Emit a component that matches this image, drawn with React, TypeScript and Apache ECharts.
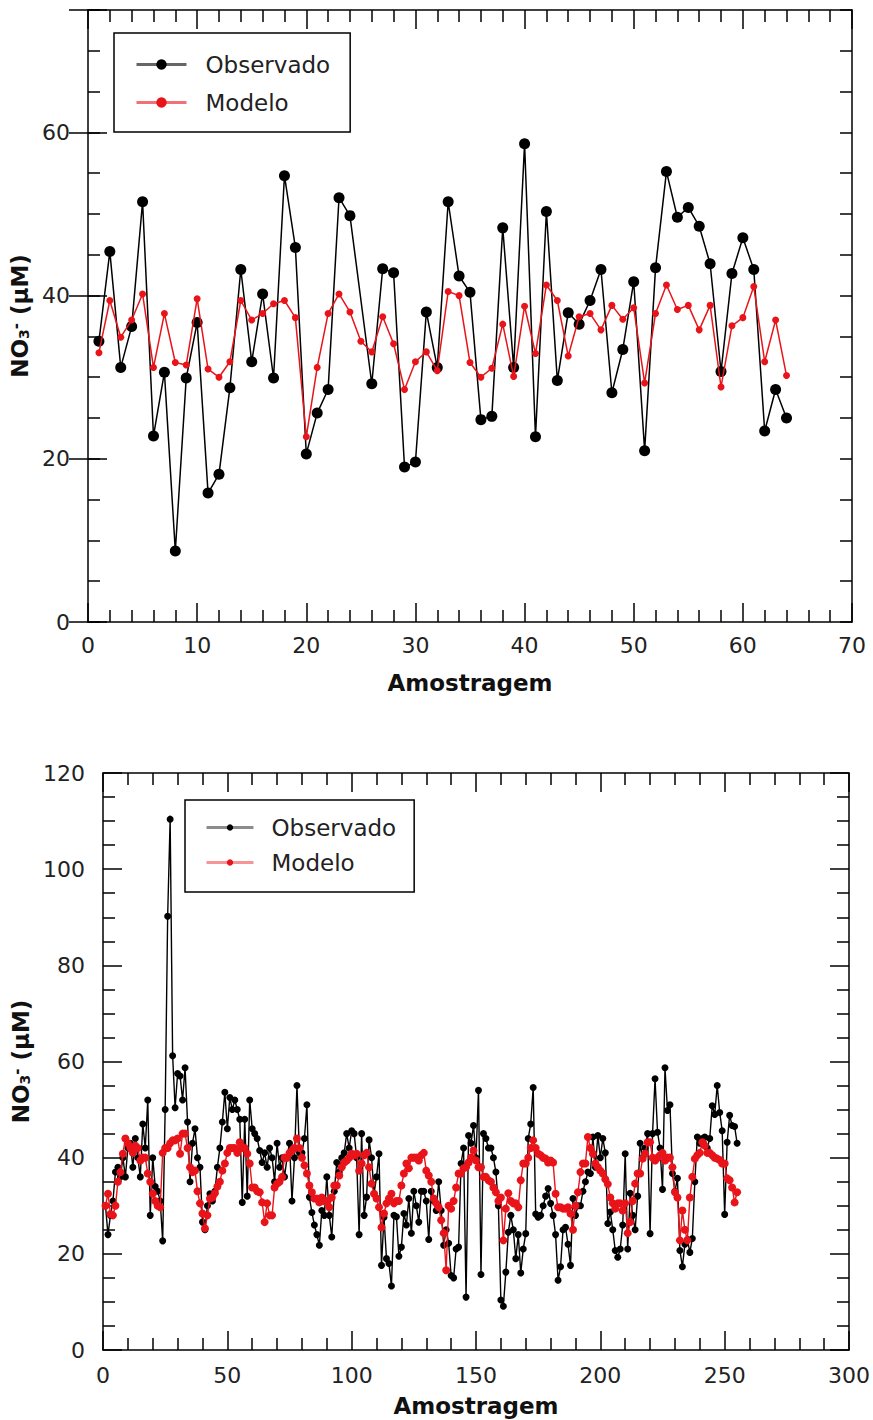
import React, { useEffect, useRef } from 'react';
import * as echarts from 'echarts';

const FONT = "'DejaVu Sans', sans-serif";

// ---- Panel 1 (top) ----
const obsTop: (number | null)[] = [
  34.4, 45.4, 31.2, 36.2, 51.5, 22.8, 30.6, 8.7, 29.9, 36.7,
  15.8, 18.1, 28.7, 43.2, 31.9, 40.2, 29.9, 54.7, 45.9, 20.6,
  25.6, 28.5, 52.0, 49.8, null, 29.2, 43.3, 42.8, 19.0, 19.6,
  38.0, 31.2, 51.5, 42.4, 40.4, 24.8, 25.2, 48.3, 31.2, 58.6,
  22.7, 50.3, 29.6, 37.9, 36.5, 39.4, 43.2, 28.1, 33.4, 41.7,
  21.0, 43.4, 55.2, 49.6, 50.8, 48.5, 43.9, 30.7, 42.7, 47.1,
  43.2, 23.4, 28.5, 25.0,
];
const modTop: number[] = [
  33.0, 39.4, 34.9, 37.0, 40.2, 31.2, 37.8, 31.8, 31.5, 39.6,
  31.0, 30.0, 31.9, 39.4, 37.0, 37.8, 39.0, 39.4, 37.3, 22.7,
  31.2, 37.8, 40.2, 38.0, 34.4, 33.1, 37.4, 34.1, 28.5, 31.9,
  33.1, 30.8, 40.5, 40.0, 31.8, 30.0, 31.1, 36.5, 30.1, 38.7,
  32.9, 41.3, 39.4, 32.6, 37.4, 37.8, 35.8, 38.8, 37.1, 38.5,
  29.3, 37.8, 41.3, 38.3, 38.8, 35.8, 38.8, 28.8, 36.3, 37.3,
  41.1, 31.9, 37.0, 30.2,
];

// ---- Panel 2 (bottom) ----
const obsBottom: number[] = [
  30, 24, 28, 31, 37, 38, 36, 40, 36, 42,
  43, 38, 44, 40, 36, 47, 42, 52, 28, 40,
  34, 33, 31, 22.7, 50, 90.2, 110.4, 61.2, 50.4, 57.5,
  57, 52, 58.7, 47.4, 35, 43, 46, 40, 38, 26.6,
  25, 30, 32.5, 31, 33, 38, 42, 47.4, 53.6, 46,
  52.5, 50, 52, 50, 48, 30.7, 48, 32, 52, 46,
  45, 44, 41.5, 39, 41, 38, 42, 40, 35, 43,
  38, 40, 36, 40, 43, 31, 40, 55, 41, 41,
  44, 51, 31.8, 28.6, 26, 24, 21.8, 29, 28, 36,
  28, 23.5, 33, 39, 37, 40, 41, 45, 42, 45.6,
  45, 40, 24, 45, 28, 31.8, 43.7, 40, 32.5, 36,
  40.8, 17.6, 27.6, 19, 18, 13.3, 28, 27.7, 19.5, 21.4,
  28.4, 26, 31.5, 24.3, 33, 30, 26.6, 33, 33, 31,
  23, 33, 31, 29, 35, 29, 21.8, 25, 22.2, 15.5,
  15, 21, 21.4, 38.8, 42, 11, 44.6, 43, 46.7, 40,
  54, 15.7, 45, 44, 42, 42, 40, 37, 30, 10.4,
  9.1, 16.2, 24.5, 28, 25, 19, 24, 16, 21, 24.2,
  44, 47, 54.6, 28.3, 27.6, 28, 30, 32, 33.6, 30.5,
  28, 24, 14.5, 17.3, 25, 25.5, 22, 17.6, 31.5, 28,
  30, 30, 33, 35, 37, 36.7, 44.3, 38, 44.6, 40,
  44, 41, 26.3, 28.7, 25, 20.7, 19.3, 21, 26, 40.8,
  21, 32.6, 28, 25, 32, 43, 40, 42, 45, 24.2,
  45, 56.4, 45.3, 42, 33.4, 58.7, 49.8, 51, 36.7, 33,
  35.7, 20.7, 17.3, 22, 23, 20.3, 23.2, 35, 44.3, 43,
  44, 44.3, 42, 44, 50.8, 49, 55, 49.4, 45.6, 28.2,
  43.2, 48.8, 46.7, 46.5, 43,
];
const modBottom: number[] = [
  30, 32.5, 28.3, 28, 30, 35, 37, 40.8, 44, 43,
  42, 41, 42.5, 42, 39.4, 40, 40, 36.7, 35, 32.5,
  31, 30, 29.7, 41, 42, 42, 43, 43.6, 43.6, 44,
  40.8, 45, 45, 42, 38, 37, 37.3, 33, 30.5, 28.4,
  25.3, 28, 31.5, 31.7, 32.6, 34, 35, 37.3, 38.8, 41,
  42, 42, 42, 41, 43.2, 42, 42, 40.8, 38.8, 33.8,
  33.8, 33, 32.8, 30.7, 26.6, 30.5, 28, 28, 33.8, 34.6,
  35, 36, 40, 40, 41, 41.5, 42, 44, 42, 40,
  38.4, 36.7, 34.2, 32.8, 31.5, 31.5, 30.7, 31.7, 31, 31,
  29.7, 31.7, 34.2, 34.2, 36.3, 38, 39, 39.4, 40, 40.8,
  40.5, 40.8, 37.3, 38.8, 40.5, 41, 38, 34.6, 32.5, 31.5,
  29.7, 25.5, 28.4, 30.5, 31.5, 32.5, 30.5, 31, 31, 34.2,
  36.7, 38.8, 37.8, 40, 40, 40, 39.4, 40.5, 41, 37.3,
  36.3, 35, 31.5, 30.5, 29.7, 27, 24.3, 16.6, 30, 29.4,
  31, 33.8, 36.7, 36.7, 37.8, 38, 39, 40, 41.5, 39.4,
  38, 38, 36, 36, 35.3, 35, 33.8, 32.8, 31, 31.7,
  22.8, 29.4, 32.6, 31, 30.5, 30.5, 29.7, 35.3, 38.8, 38.8,
  40, 42, 43.6, 42, 40.8, 40.5, 40, 39.8, 39, 39.4,
  39, 32.5, 29.7, 29.7, 29.4, 29.4, 29.7, 28.4, 25, 30,
  32.8, 37, 38.8, 38.8, 44.3, 42, 40.8, 38.8, 38, 37.3,
  36.7, 35.5, 34.5, 31.7, 30.5, 29.4, 30.5, 30.5, 29, 30.5,
  24.3, 26.6, 31, 34.6, 36.7, 36.7, 39.8, 40.8, 43.2, 43.2,
  40, 39.4, 40, 40.5, 41, 39.4, 40, 40, 38, 32.8,
  31.7, 22.8, 29, 25, 22.8, 31.7, 36, 39.8, 40.5, 41,
  43.2, 42.5, 41, 41, 40.5, 40, 39.8, 39.5, 38.8, 38.8,
  35.7, 35.3, 33.8, 30.7, 32.8,
];

const seriesNames = ['Observado', 'Modelo'];
const xTitle = 'Amostragem';
const yTitle = '{b|NO}{s|3}{p|-}{b| (µM)}';

const toPairs = (arr: (number | null)[]) => arr.map((v, i) => [i + 1, v]);

const LINE = { color: '#000', width: 1.5 };
const labelStyle = { fontSize: 22, color: '#222', fontFamily: FONT };

function xAxisPair(gridIndex: number, max: number, interval: number, minorSplit: number, margin: number, nameGap: number) {
  const base = {
    type: 'value',
    gridIndex,
    min: 0,
    max,
    interval,
    splitLine: { show: false },
    axisLine: { show: true, onZero: false, lineStyle: LINE },
    axisTick: { show: true, inside: true, length: 19, lineStyle: LINE },
    minorTick: { show: true, splitNumber: minorSplit, length: 12, lineStyle: LINE },
    minorSplitLine: { show: false },
  };
  return [
    {
      ...base,
      position: 'bottom',
      axisLabel: { ...labelStyle, margin },
      name: xTitle,
      nameLocation: 'middle',
      nameGap,
      nameTextStyle: { fontSize: 23, fontWeight: 'bold', color: '#111', fontFamily: FONT },
    },
    { ...base, position: 'top', axisLabel: { show: false } },
  ];
}

const yName = {
  name: yTitle,
  nameLocation: 'middle',
  nameTextStyle: {
    fontFamily: FONT,
    color: '#111',
    rich: {
      b: { fontSize: 23, fontWeight: 'bold', fontFamily: FONT, color: '#111' },
      s: { fontSize: 14, fontWeight: 'bold', fontFamily: FONT, color: '#111', verticalAlign: 'bottom', padding: [6, 0, 0, 0] },
      p: { fontSize: 15, fontWeight: 'bold', fontFamily: FONT, color: '#111', verticalAlign: 'top', padding: [0, 0, 8, 0] },
    },
  },
};

const yBase = (gridIndex: number, max: number, interval: number) => ({
  type: 'value',
  gridIndex,
  min: 0,
  max,
  interval,
  splitLine: { show: false },
  axisLine: { show: true, onZero: false, lineStyle: LINE },
  axisTick: { show: true, inside: true, length: 12, lineStyle: LINE },
});

const option: any = {
  animation: false,
  backgroundColor: '#fff',
  textStyle: { fontFamily: FONT },
  grid: [
    { left: 88, top: 10, width: 764, height: 612 },
    { left: 103, top: 773, width: 750, height: 577 },
  ],
  xAxis: [
    ...xAxisPair(0, 70, 10, 5, 12, 49),
    ...xAxisPair(1, 300, 50, 5, 14, 44),
  ],
  yAxis: [
    {
      ...yBase(0, 75, 5),
      position: 'left',
      axisLabel: { ...labelStyle, margin: 18, formatter: (v: number) => (v % 20 === 0 ? String(v) : '') },
      ...yName,
      nameGap: 54,
    },
    {
      ...yBase(0, 75, 20),
      position: 'left',
      axisLine: { show: false },
      axisTick: { show: true, inside: true, length: 19, lineStyle: LINE },
      axisLabel: { show: false },
    },
    { ...yBase(0, 75, 5), position: 'right', axisLabel: { show: false } },
    {
      ...yBase(0, 75, 20),
      position: 'right',
      axisLine: { show: false },
      axisTick: { show: true, inside: true, length: 19, lineStyle: LINE },
      axisLabel: { show: false },
    },
    {
      ...yBase(1, 120, 20),
      position: 'left',
      axisTick: { show: true, inside: true, length: 19, lineStyle: LINE },
      minorTick: { show: true, splitNumber: 4, length: 12, lineStyle: LINE },
      axisLabel: { ...labelStyle, margin: 18 },
      ...yName,
      nameGap: 69,
    },
    {
      ...yBase(1, 120, 20),
      position: 'right',
      axisTick: { show: true, inside: true, length: 19, lineStyle: LINE },
      minorTick: { show: true, splitNumber: 4, length: 12, lineStyle: LINE },
      axisLabel: { show: false },
    },
  ],
  legend: [
    {
      orient: 'vertical',
      left: 114,
      top: 33,
      padding: [20, 20, 18, 21],
      itemWidth: 50,
      itemHeight: 13,
      itemGap: 15,
      borderColor: '#000',
      borderWidth: 1.5,
      borderRadius: 0,
      backgroundColor: '#fff',
      data: seriesNames,
      lineStyle: { width: 3, opacity: 0.6 },
      textStyle: { fontSize: 23, color: '#222', fontFamily: FONT, padding: [0, 0, 0, 14] },
      selectedMode: false,
    },
    {
      orient: 'vertical',
      left: 185,
      top: 800,
      padding: [16, 18, 18, 20],
      itemWidth: 47,
      itemHeight: 8,
      itemGap: 12,
      borderColor: '#000',
      borderWidth: 1.5,
      borderRadius: 0,
      backgroundColor: '#fff',
      data: seriesNames,
      lineStyle: { width: 3, opacity: 0.45 },
      textStyle: { fontSize: 23, color: '#222', fontFamily: FONT, padding: [0, 0, 0, 13] },
      selectedMode: false,
    },
  ],
  series: [
    {
      name: seriesNames[0],
      type: 'line',
      xAxisIndex: 0,
      yAxisIndex: 0,
      data: toPairs(obsTop),
      connectNulls: true,
      symbol: 'circle',
      symbolSize: 11,
      showAllSymbol: true,
      lineStyle: { color: '#000', width: 1.5 },
      itemStyle: { color: '#000' },
      z: 2,
    },
    {
      name: seriesNames[1],
      type: 'line',
      xAxisIndex: 0,
      yAxisIndex: 0,
      data: toPairs(modTop),
      symbol: 'circle',
      symbolSize: 7,
      showAllSymbol: true,
      lineStyle: { color: '#e8141a', width: 1.5 },
      itemStyle: { color: '#e8141a' },
      z: 3,
    },
    {
      name: seriesNames[0],
      type: 'line',
      xAxisIndex: 2,
      yAxisIndex: 4,
      data: toPairs(obsBottom),
      symbol: 'circle',
      symbolSize: 7,
      showAllSymbol: true,
      lineStyle: { color: '#000', width: 1.4 },
      itemStyle: { color: '#000' },
      z: 2,
    },
    {
      name: seriesNames[1],
      type: 'line',
      xAxisIndex: 2,
      yAxisIndex: 4,
      data: toPairs(modBottom),
      symbol: 'circle',
      symbolSize: 8,
      showAllSymbol: true,
      lineStyle: { color: '#e8141a', width: 1.4 },
      itemStyle: { color: '#e8141a' },
      z: 3,
    },
  ],
};

export default function App() {
  const ref = useRef<HTMLDivElement>(null);
  useEffect(() => {
    if (!ref.current) return;
    const chart = echarts.init(ref.current, null, { renderer: 'svg' });
    chart.setOption(option);
    return () => chart.dispose();
  }, []);
  return (
    <div
      ref={ref}
      style={{ position: 'absolute', left: 0, top: 0, width: 873, height: 1420, background: '#fff' }}
    />
  );
}
